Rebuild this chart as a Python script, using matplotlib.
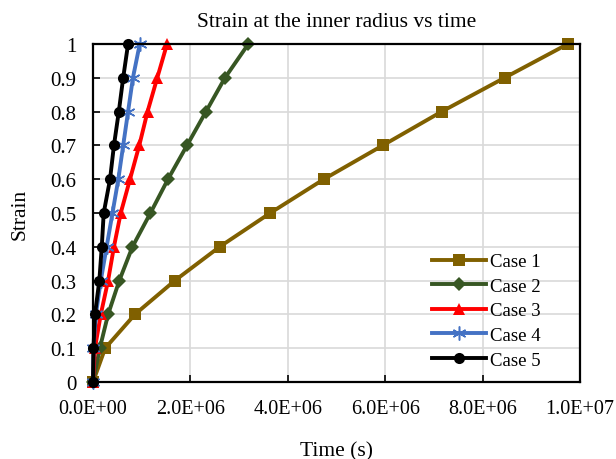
import numpy as np
import matplotlib.pyplot as plt

strain = [0, 0.1, 0.2, 0.3, 0.4, 0.5, 0.6, 0.7, 0.8, 0.9, 1.0]

# time values (s)
case1 = [0, 0.25e6, 0.86e6, 1.68e6, 2.60e6, 3.64e6, 4.74e6, 5.95e6, 7.16e6, 8.45e6, 9.75e6]
case2 = [0, 0.14e6, 0.31e6, 0.54e6, 0.81e6, 1.18e6, 1.54e6, 1.93e6, 2.32e6, 2.71e6, 3.19e6]
case3 = [0, 0.04e6, 0.16e6, 0.31e6, 0.43e6, 0.57e6, 0.76e6, 0.95e6, 1.12e6, 1.32e6, 1.52e6]
case4 = [0, 0.01e6, 0.06e6, 0.16e6, 0.28e6, 0.40e6, 0.52e6, 0.62e6, 0.72e6, 0.82e6, 0.96e6]
case5 = [0, 0.01e6, 0.04e6, 0.13e6, 0.18e6, 0.22e6, 0.35e6, 0.43e6, 0.53e6, 0.62e6, 0.72e6]

labels = ["Case 1", "Case 2", "Case 3", "Case 4", "Case 5"]
colors = ["#806000", "#375623", "#FF0000", "#4472C4", "#000000"]
markers = ["s", "D", "^", (6, 2, 0), "o"]
msizes = [8, 7, 9, 10, 8]

x_ticks = [0, 2e6, 4e6, 6e6, 8e6, 1e7]
x_ticklabels = ["0.0E+00", "2.0E+06", "4.0E+06", "6.0E+06", "8.0E+06", "1.0E+07"]
y_ticks = strain
y_ticklabels = ["0", "0.1", "0.2", "0.3", "0.4", "0.5", "0.6", "0.7", "0.8", "0.9", "1"]

plt.rcParams['font.family'] = ['Liberation Serif', 'DejaVu Serif']
plt.rcParams['font.size'] = 15

W, H = 616, 460
fig = plt.figure(figsize=(W/100, H/100), dpi=100)
ax = fig.add_axes([93/W, 1 - 383/H, (580-93)/W, (383-45)/H])

for t, lab, c, m, ms in zip([case1, case2, case3, case4, case5], labels, colors, markers, msizes):
    mkw = dict(markeredgewidth=1.1) if isinstance(m, tuple) else dict(markeredgewidth=0)
    ax.plot(t, strain, color=c, lw=2.8, marker=m, ms=ms, label=lab, clip_on=False, **mkw)

ax.set_xlim(0, 1e7)
ax.set_ylim(0, 1)
ax.set_xticks(x_ticks)
ax.set_xticklabels(x_ticklabels, fontsize=14.5)
ax.set_yticks(y_ticks)
ax.set_yticklabels(y_ticklabels)
ax.tick_params(direction='in', length=5, width=1.2, pad=12)
ax.grid(True, color='#d9d9d9', lw=1.2)
ax.set_axisbelow(True)
for s in ax.spines.values():
    s.set_linewidth(1.6)

ax.set_title("Strain at the inner radius vs time", fontsize=15.5, pad=13)
ax.set_xlabel("Time (s)", fontsize=15.5, labelpad=17)
ax.set_ylabel("Strain", fontsize=15.5, labelpad=15)

ax.legend(loc='upper left', bbox_to_anchor=(432/W, 1 - 254/H), bbox_transform=fig.transFigure,
          frameon=False, fontsize=13.5, borderpad=0, borderaxespad=0,
          handlelength=2.9, labelspacing=0.4, handletextpad=0.2)

fig.savefig("out.png", dpi=100)
